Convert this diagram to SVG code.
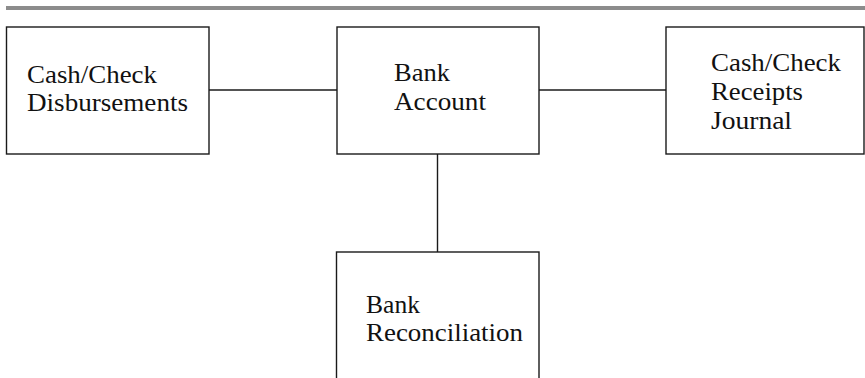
<svg xmlns="http://www.w3.org/2000/svg" width="865" height="378" viewBox="0 0 865 378">
  <style>
    .box { fill: #ffffff; stroke: #1a1a1a; stroke-width: 1.4; }
    .link { stroke: #1a1a1a; stroke-width: 1.4; fill: none; }
    .label { font-family: "Liberation Serif", "Times New Roman", serif; font-size: 26px; fill: #111111; }
  </style>
  <rect width="865" height="378" fill="#ffffff"/>
  <!-- header rule -->
  <rect x="6" y="6" width="859" height="4" fill="#8c8c8c"/>

  <g id="connectors">
    <line class="link" x1="209" y1="90" x2="337" y2="90"/>
    <line class="link" x1="539" y1="90" x2="666" y2="90"/>
    <line class="link" x1="437.5" y1="154" x2="437.5" y2="252"/>
  </g>

  <g id="cash-check-disbursements">
    <rect class="box" x="6.5" y="27" width="202.5" height="127"/>
    <text class="label" x="27" y="83" textLength="130" lengthAdjust="spacingAndGlyphs">Cash/Check</text>
    <text class="label" x="27" y="111" textLength="161" lengthAdjust="spacingAndGlyphs">Disbursements</text>
  </g>

  <g id="bank-account">
    <rect class="box" x="337" y="27" width="202" height="127"/>
    <text class="label" x="394" y="81" textLength="56" lengthAdjust="spacingAndGlyphs">Bank</text>
    <text class="label" x="394" y="110" textLength="92" lengthAdjust="spacingAndGlyphs">Account</text>
  </g>

  <g id="cash-check-receipts-journal">
    <rect class="box" x="666" y="27" width="198" height="127"/>
    <text class="label" x="711" y="71" textLength="130" lengthAdjust="spacingAndGlyphs">Cash/Check</text>
    <text class="label" x="711" y="100" textLength="92" lengthAdjust="spacingAndGlyphs">Receipts</text>
    <text class="label" x="711" y="129" textLength="81" lengthAdjust="spacingAndGlyphs">Journal</text>
  </g>

  <g id="bank-reconciliation">
    <rect class="box" x="336.5" y="252" width="202.5" height="140"/>
    <text class="label" x="366" y="313" textLength="54" lengthAdjust="spacingAndGlyphs">Bank</text>
    <text class="label" x="366" y="341" textLength="157" lengthAdjust="spacingAndGlyphs">Reconciliation</text>
  </g>
</svg>
